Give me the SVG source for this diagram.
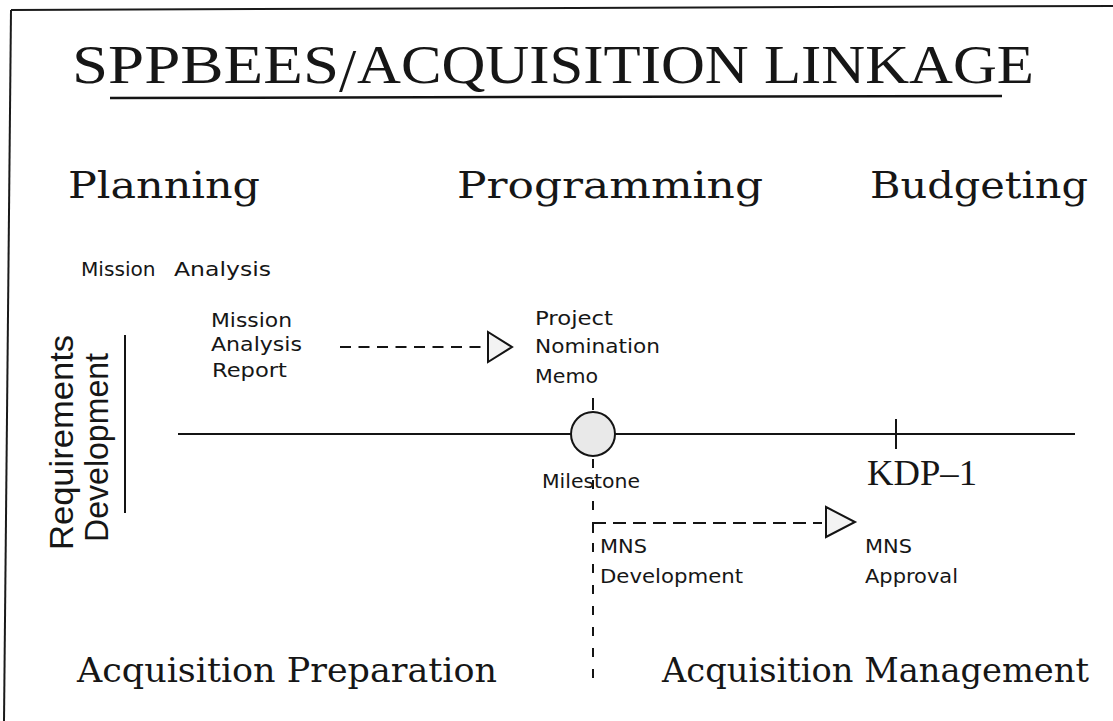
<svg xmlns="http://www.w3.org/2000/svg" width="1113" height="721" viewBox="0 0 1113 721">
  <defs>
    <style>
      .frame { stroke: #1a1a1a; stroke-width: 2; fill: none; }
      .solid { stroke: #141414; stroke-width: 2; fill: none; }
      .dash-h { stroke: #141414; stroke-width: 2; fill: none; stroke-dasharray: 11 7.5; }
      .dash-h2 { stroke: #141414; stroke-width: 2; fill: none; stroke-dasharray: 13 7; }
      .dash-v { stroke: #141414; stroke-width: 2; fill: none; stroke-dasharray: 9 12; }
      .head { stroke: #141414; stroke-width: 2; fill: #f3f3f3; stroke-linejoin: miter; }
      .title { font-family: "Liberation Serif", "Times New Roman", serif; font-size: 55px; fill: #161616; }
      .phase { font-family: "DejaVu Serif", "Liberation Serif", serif; font-size: 38px; fill: #161616; }
      .area { font-family: "DejaVu Serif", "Liberation Serif", serif; font-size: 34px; fill: #161616; }
      .side { font-family: "Liberation Sans", Arial, sans-serif; font-size: 34px; fill: #161616; }
      .lbl { font-family: "DejaVu Sans", "Liberation Sans", sans-serif; font-size: 20px; fill: #161616; }
      .kdp { font-family: "Liberation Serif", "Times New Roman", serif; font-size: 35px; fill: #161616; }
    </style>
  </defs>

  <rect width="1113" height="721" fill="#ffffff"/>

  <!-- page frame (top and left rules) -->
  <g id="frame">
    <line class="frame" x1="11" y1="10" x2="1113" y2="6"/>
    <line class="frame" x1="11" y1="10" x2="4" y2="721"/>
  </g>

  <!-- heading -->
  <g id="heading">
    <text class="title" y="83"><tspan x="72" textLength="267" lengthAdjust="spacingAndGlyphs">SPPBEES</tspan><tspan x="339" y="91" style="font-size:62px">/</tspan><tspan x="357" y="83" textLength="677" lengthAdjust="spacingAndGlyphs">ACQUISITION LINKAGE</tspan></text>
    <line class="solid" x1="110" y1="98" x2="1002" y2="96" style="stroke-width:2.5"/>
  </g>

  <!-- phase headings -->
  <g id="phases">
    <text class="phase" x="68" y="198" textLength="192" lengthAdjust="spacingAndGlyphs">Planning</text>
    <text class="phase" x="457" y="198" textLength="306" lengthAdjust="spacingAndGlyphs">Programming</text>
    <text class="phase" x="870" y="198" textLength="218" lengthAdjust="spacingAndGlyphs">Budgeting</text>
  </g>

  <g id="mission-analysis">
    <text class="lbl" y="276"><tspan x="81" textLength="81" lengthAdjust="spacingAndGlyphs">Mission </tspan><tspan x="174" textLength="97" lengthAdjust="spacingAndGlyphs">Analysis</tspan></text>
  </g>

  <!-- vertical side label with its rule -->
  <g id="requirements-development">
    <text class="side" transform="translate(73,550) rotate(-90)" textLength="215" lengthAdjust="spacingAndGlyphs">Requirements</text>
    <text class="side" transform="translate(108,542) rotate(-90)" textLength="189" lengthAdjust="spacingAndGlyphs">Development</text>
    <line class="solid" x1="125" y1="335" x2="125" y2="513"/>
  </g>

  <!-- connectors -->
  <g id="connectors">
    <!-- time line -->
    <line class="solid" x1="178" y1="434" x2="571" y2="434"/>
    <line class="solid" x1="615" y1="434" x2="1075" y2="434"/>
    <!-- KDP-1 tick -->
    <line class="solid" x1="896" y1="419" x2="896" y2="449"/>
    <!-- report to memo -->
    <line class="dash-h" x1="340" y1="347" x2="484" y2="347"/>
    <polygon class="head" points="488,332 488,362 512,347"/>
    <!-- memo to milestone -->
    <line class="solid" x1="593" y1="398" x2="593" y2="410"/>
    <!-- milestone downward split -->
    <line class="dash-v" x1="593" y1="459" x2="593" y2="690"/>
    <line class="solid" x1="593" y1="523" x2="593" y2="533"/>
    <line class="dash-h2" x1="593" y1="523" x2="822" y2="523"/>
    <polygon class="head" points="826,507 826,537 855,522"/>
  </g>

  <g id="milestone">
    <circle cx="593" cy="434" r="22" fill="#e9e9e9" stroke="#141414" stroke-width="2"/>
    <text class="lbl" x="542" y="488" textLength="98" lengthAdjust="spacingAndGlyphs">Milestone</text>
  </g>

  <g id="mission-analysis-report">
    <text class="lbl" x="211" y="327" textLength="81" lengthAdjust="spacingAndGlyphs">Mission</text>
    <text class="lbl" x="211" y="351" textLength="91" lengthAdjust="spacingAndGlyphs">Analysis</text>
    <text class="lbl" x="212" y="377" textLength="75" lengthAdjust="spacingAndGlyphs">Report</text>
  </g>

  <g id="project-nomination-memo">
    <text class="lbl" x="535" y="325" textLength="78" lengthAdjust="spacingAndGlyphs">Project</text>
    <text class="lbl" x="535" y="353" textLength="125" lengthAdjust="spacingAndGlyphs">Nomination</text>
    <text class="lbl" x="535" y="383" textLength="63" lengthAdjust="spacingAndGlyphs">Memo</text>
  </g>

  <g id="kdp-1">
    <text class="kdp" x="867" y="485" textLength="110" lengthAdjust="spacingAndGlyphs">KDP–1</text>
  </g>

  <g id="mns-development">
    <text class="lbl" x="600" y="553" textLength="47" lengthAdjust="spacingAndGlyphs">MNS</text>
    <text class="lbl" x="600" y="583" textLength="143" lengthAdjust="spacingAndGlyphs">Development</text>
  </g>

  <g id="mns-approval">
    <text class="lbl" x="865" y="553" textLength="47" lengthAdjust="spacingAndGlyphs">MNS</text>
    <text class="lbl" x="865" y="583" textLength="93" lengthAdjust="spacingAndGlyphs">Approval</text>
  </g>

  <!-- lower area headings -->
  <g id="areas">
    <text class="area" x="77" y="682" textLength="420" lengthAdjust="spacingAndGlyphs">Acquisition Preparation</text>
    <text class="area" x="662" y="682" textLength="427" lengthAdjust="spacingAndGlyphs">Acquisition Management</text>
  </g>
</svg>
